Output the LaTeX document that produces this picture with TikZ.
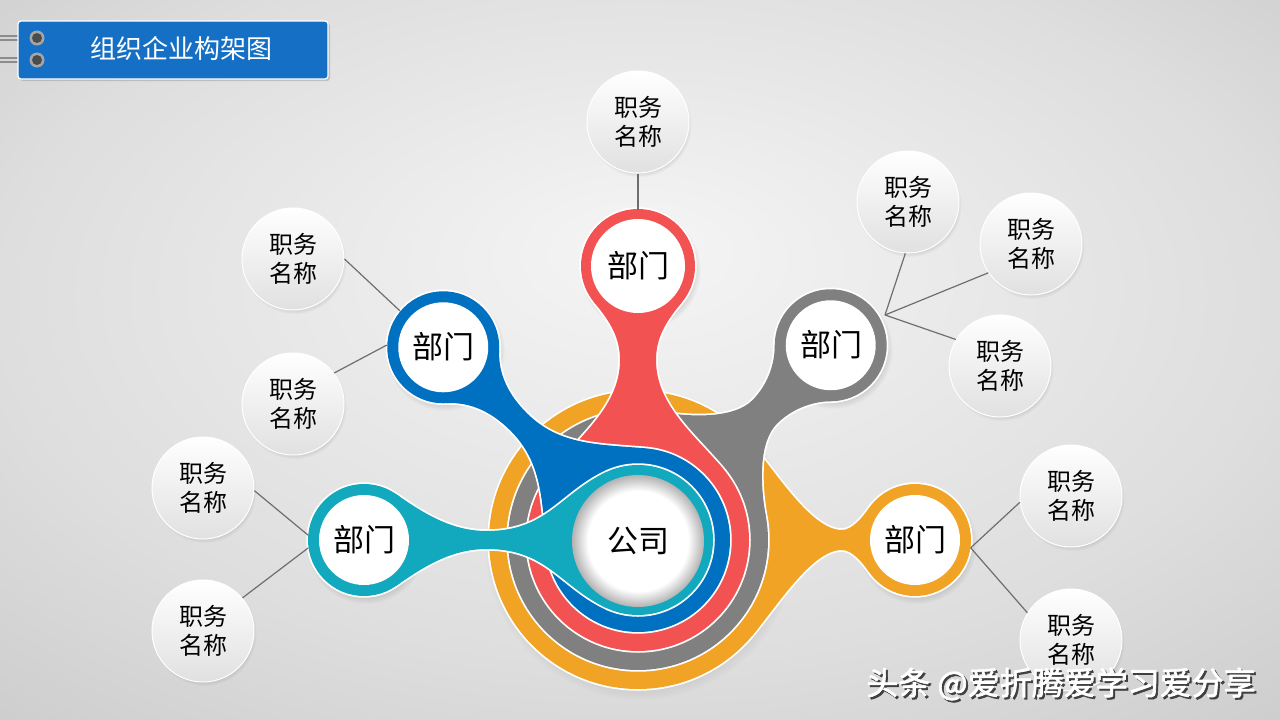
\documentclass[tikz,border=0pt]{standalone}
\usepackage{fontspec}
\setmainfont{Noto Sans CJK SC}
\newfontfamily\wmfont[FakeBold=2]{Noto Sans CJK SC}
\usetikzlibrary{shadows}
\definecolor{cOr}{RGB}{240,163,37}
\definecolor{cGr}{RGB}{128,128,128}
\definecolor{cRd}{RGB}{242,82,82}
\definecolor{cBl}{RGB}{0,112,192}
\definecolor{cCy}{RGB}{18,168,190}
\definecolor{cTi}{RGB}{21,112,197}
\definecolor{cLine}{RGB}{110,110,110}
\pgfdeclareradialshading{bgsh}{\pgfpoint{0bp}{8bp}}{color(0bp)=(black!4); color(25bp)=(black!13); color(40bp)=(black!21); color(50bp)=(black!21)}
\pgfdeclareradialshading{insetsh}{\pgfpoint{0bp}{0bp}}{color(0bp)=(white); color(19bp)=(white); color(25bp)=(black!30); color(50bp)=(black!30)}
\newcommand\necks{(\Lb:\LR) .. controls +(\Lb-90:\Lka) and +(180:\Lma) .. (\Luw,\Lw) .. controls +(0:\Lmb) and +(-90-\La:\Lkb) .. ({\Ld-\Lr*cos(\La)},{\Lr*sin(\La)}) -- ({\Ld-\Lr*cos(\La)},{-\Lr*sin(\La)}) .. controls +(90+\La:\Lkb) and +(0:\Lmb) .. (\Luw,-\Lw) .. controls +(180:\Lma) and +(90-\Lb:\Lka) .. (-\Lb:\LR) -- cycle}
\newcommand\layer[2]{%
 \begin{scope}[shift={(638,540)}, rotate=#2]
  \draw[white, line width=3.5pt] (0,0) circle (\LR pt) (\Ld,0) circle (\Lr pt) \necks;
  \fill[#1] (0,0) circle (\LR pt);
  \fill[#1] (\Ld,0) circle (\Lr pt);
  \fill[#1] \necks;
  \fill[white] (\Ld,0) circle (\Lri pt);
 \end{scope}}
\begin{document}
\begin{tikzpicture}[x=1pt,y=-1pt,
  job/.style={circle, minimum size=102pt, inner sep=0pt, align=center,
    font=\fontsize{24}{29}\selectfont, top color=white, bottom color=black!12,
    draw=white, line width=1pt,
    circular drop shadow={opacity=0.35, shadow xshift=1.5pt, shadow yshift=-3pt, shadow scale=1.02}},
  dept/.style={circle, minimum size=112pt, inner sep=0pt, font=\fontsize{31}{31}\selectfont},
  conn/.style={draw=cLine, line width=1.2pt},
  soft/.style={circular drop shadow={opacity=0.3, shadow xshift=2pt, shadow yshift=-4pt, shadow scale=1.03}}]
\useasboundingbox (0,0) rectangle (1280,720);
\shade[shading=bgsh] (0,0) rectangle (1280,720);

% title
\foreach \yy in {38,60}{
  \draw[black!45, line width=1.2pt] (0,\yy-2) -- (36,\yy-2) (0,\yy+2) -- (36,\yy+2);
}
\node[fill=cTi, draw=white, line width=1.2pt, rounded corners=3pt, minimum width=310pt, minimum height=58pt,
  drop shadow={opacity=0.35, shadow xshift=2pt, shadow yshift=-2pt}] (tb) at (173,50) {};
\foreach \yy in {38,60}{
  \fill[black!35] (37,\yy) circle (7.5pt);
  \fill[black!70] (37,\yy) circle (5pt);
}
\node[text=white, font=\fontsize{26}{26}\selectfont] (tt) at (181,49) {组织企业构架图};

% soft shadows under the coloured shapes
\path[soft] (638,540) circle (151pt);
\path[soft] (915,540) circle (58pt);
\path[soft] (831,345) circle (58pt);
\path[soft] (638,266) circle (59pt);
\path[soft] (443,347) circle (58pt);
\path[soft] (364,540) circle (58pt);

% orange
\def\LR{149}\def\Ld{277}\def\Lr{56}\def\Lri{45}\def\La{35}\def\Lb{40}\def\Luw{204}\def\Lw{10}\def\Lka{40}\def\Lma{30}\def\Lmb{10}\def\Lkb{12}
\layer{cOr}{0}
% gray
\def\LR{130}\def\Ld{274}\def\La{45}\def\Lb{35}\def\Luw{180}\def\Lw{17}\def\Lka{35}\def\Lma{25}\def\Lmb{20}\def\Lkb{20}
\layer{cGr}{45.3}
% red
\def\LR{111}\def\Ld{274}\def\Lr{57}\def\Lri{47}\def\La{50}\def\Lb{50}\def\Luw{180}\def\Lw{18}\def\Lka{45}\def\Lma{45}\def\Lmb{22}\def\Lkb{25}
\layer{cRd}{90}
% blue
\def\LR{92}\def\Lr{56}\def\Lri{45}\def\La{42}\def\Lb{50}\def\Luw{168}\def\Lw{12}\def\Lka{50}\def\Lma{45}\def\Lmb{25}\def\Lkb{25}
\layer{cBl}{135.3}
% cyan
\def\LR{75}\def\La{55}\def\Lb{65}\def\Luw{151}\def\Lw{9}\def\Lka{50}\def\Lma{60}\def\Lmb{35}\def\Lkb{35}
\layer{cCy}{180}

% center
\shade[shading=insetsh] (638,541) circle (66pt);
\node[font=\fontsize{31}{31}\selectfont] (co) at (638,541) {公司};

% departments
\node[dept] (dO) at (915,540) {部门};
\node[dept] (dG) at (831,345) {部门};
\node[dept] (dR) at (638,266) {部门};
\node[dept] (dB) at (443,347) {部门};
\node[dept] (dC) at (364,540) {部门};

% jobs
\node[job] (jT) at (638,122) {职务\\名称};
\node[job] (jB1) at (293,259) {职务\\名称};
\node[job] (jB2) at (293,404) {职务\\名称};
\node[job] (jC1) at (203,488) {职务\\名称};
\node[job] (jC2) at (203,631) {职务\\名称};
\node[job] (jG1) at (908,202) {职务\\名称};
\node[job] (jG2) at (1031,244) {职务\\名称};
\node[job] (jG3) at (1000,366) {职务\\名称};
\node[job] (jO1) at (1071,496) {职务\\名称};
\node[job] (jO2) at (1071,640) {职务\\名称};

% connectors
\coordinate (gJ) at (885,315);
\draw[conn] (jT) -- (dR.90);
\draw[conn] (jB1.0) -- (dB.140);
\draw[conn] (jB2.37) -- (dB.178);
\draw[conn] (jC1.-3) -- (dC.175);
\draw[conn] (jC2.40) -- (dC.188);
\draw[conn] (gJ) -- (jG1.267);
\draw[conn] (gJ) -- (jG2.214);
\draw[conn] (gJ) -- (jG3.149);
\draw[conn] (dO.-8) -- (jO1.187);
\draw[conn] (dO.-8) -- (jO2.148);

% watermark
\node[text=black!75, font=\wmfont\fontsize{32}{32}\selectfont] (wms) at (1063,686) {头条 @爱折腾爱学习爱分享};
\node[text=white, font=\wmfont\fontsize{32}{32}\selectfont] (wm) at (1061,684) {头条 @爱折腾爱学习爱分享};
\end{tikzpicture}
\end{document}
